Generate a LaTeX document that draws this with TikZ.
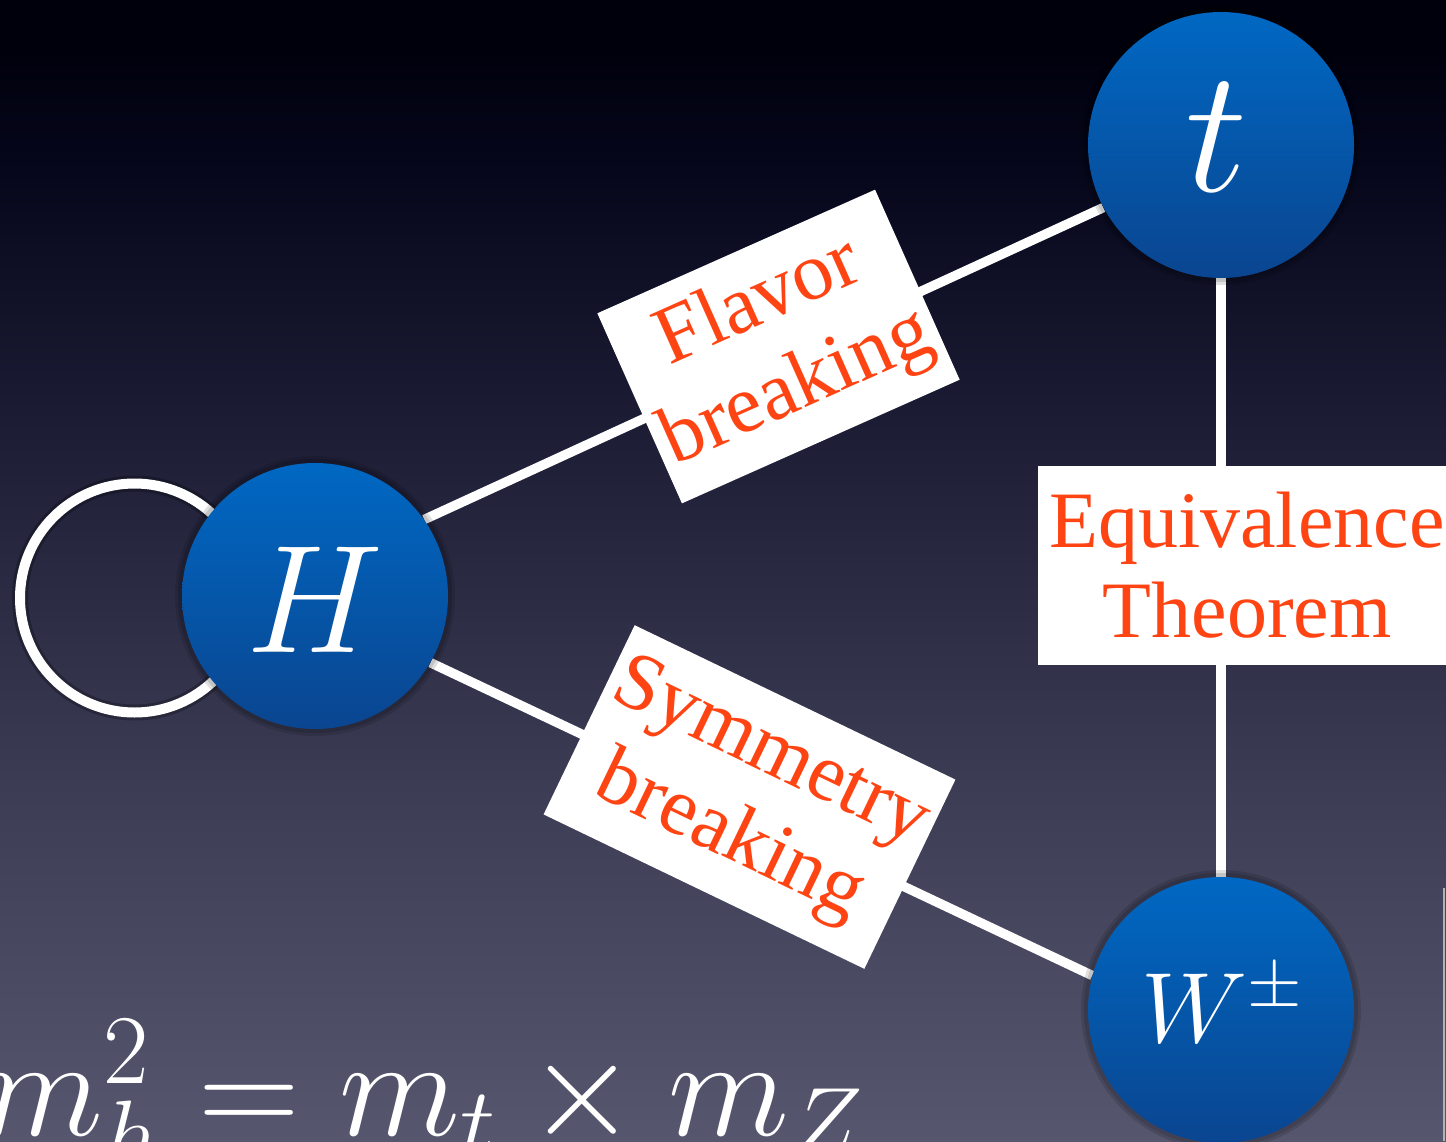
\documentclass[tikz,border=0pt]{standalone}
\usepackage{fix-cm}
\usepackage[no-math]{fontspec}
\newfontfamily\timesfont{Liberation Serif}
\definecolor{bgK}{HTML}{00000C}
\definecolor{bgD}{HTML}{05061A}
\definecolor{bgM}{HTML}{1F1F38}
\definecolor{bgL}{HTML}{3D3D56}
\definecolor{bgB}{HTML}{56566E}
\definecolor{ballT}{HTML}{0068C3}
\definecolor{ballB}{HTML}{0A4590}
\definecolor{lblred}{HTML}{FF4414}
\pgfdeclareverticalshading{bgshade}{100bp}{color(0bp)=(bgB); color(25bp)=(bgB); color(40bp)=(bgL); color(55bp)=(bgM); color(68bp)=(bgD); color(73bp)=(bgK); color(100bp)=(bgK)}
\pgfdeclarelayer{bglayer}
\pgfdeclarelayer{linelayer}
\pgfsetlayers{bglayer,linelayer,main}
\begin{document}
\begin{tikzpicture}[x=0.5pt,y=-0.5pt,
  ball/.style={circle, minimum size=133pt, inner sep=0pt, top color=ballT, bottom color=ballB, draw=none},
  balltext/.style={text=white, inner sep=0pt},
  conn/.style={draw=white, line width=4.75pt},
  halo/.style={fill=black, opacity=0.12},
  lbl/.style={fill=white, text=lblred, align=center, inner sep=0pt, font=\timesfont\fontsize{41}{47}\selectfont},
]
\useasboundingbox (0,0) rectangle (1446,1141);
\clip (0,0) rectangle (1446,1141);
\begin{pgfonlayer}{bglayer}
\shade[shading=bgshade] (0,0) rectangle (1446,1141);
\draw[draw=gray!60, line width=1pt] (1443.5,888) -- (1443.5,1141);
\end{pgfonlayer}

\coordinate (tc) at (1221,145);
\coordinate (hc) at (315,596);
\coordinate (wc) at (1221,1010);

% self loop
\node[circle, draw=white, line width=5pt, minimum size=114.5pt, inner sep=0pt,
      preaction={draw=black, opacity=0.25, line width=8pt}] (loop) at (134.5,598) {};

% halos
\foreach \c in {tc,hc,wc}{
  \fill[halo] (\c) circle (70pt);
  \fill[halo] (\c) circle (68.5pt);
}

% balls
\node[ball] (t) at (tc) {};
\node[ball] (H) at (hc) {};
\node[ball] (W) at (wc) {};

\node[balltext, font=\fontsize{88}{88}\selectfont] (tT) at (1217,137) {$t$};
\node[balltext, font=\fontsize{77}{77}\selectfont] (HT) at (315,600) {$H$};
\node[balltext, font=\fontsize{50}{50}\selectfont] (WT) at (1222,1004) {$W^{\pm}$};

% connectors
\begin{pgfonlayer}{linelayer}
\draw[conn] (H.35) -- (t.208);
\draw[conn] (H.-30) -- (W.165);
\draw[conn] (t) -- (W);
\end{pgfonlayer}

% labels
\node[lbl, minimum width=152pt, minimum height=104pt, rotate=24] (fb) at (778.5,346.5) {Flavor\\breaking};
\node[lbl, minimum width=178pt, minimum height=105pt, rotate=-25.7] (sb) at (749.5,797) {Symmetry\\breaking};
\node[lbl, font=\timesfont\fontsize{40}{45}\selectfont, minimum width=209pt, minimum height=99.5pt] (et) at (1247,565.5) {Equivalence\\Theorem};

% formula
\node[text=white, anchor=base west, inner sep=0pt, font=\fontsize{70.5}{71}\selectfont] (eq) at (-18,1135) {$m_h^2 = m_t \times m_Z$};
\end{tikzpicture}
\end{document}
